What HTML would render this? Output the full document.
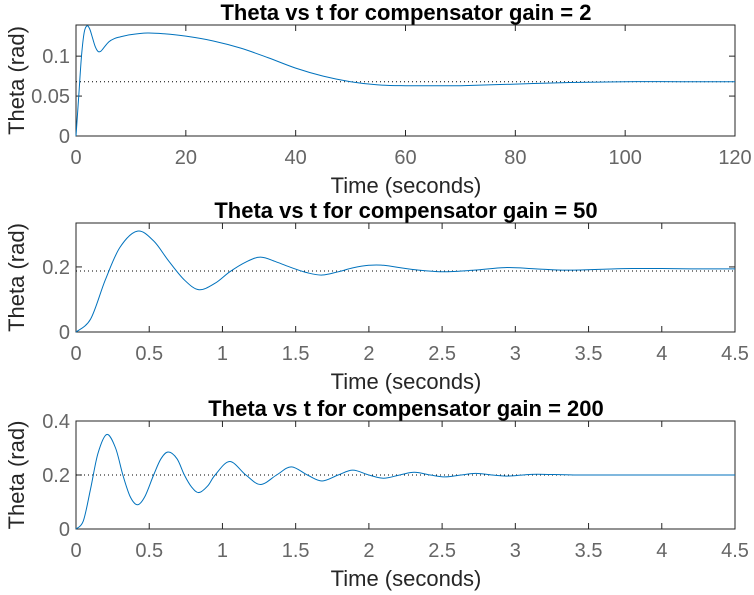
<!DOCTYPE html>
<html><head><meta charset="utf-8"><style>
html,body{margin:0;padding:0;background:#fff;}
svg{display:block;font-family:"Liberation Sans",Arial,sans-serif;}
</style></head><body>
<svg id="chart" width="754" height="595"></svg>
<script>
// Panel 1 data (gain = 2)
const t1 = [0,0.5,1,1.5,2,2.5,3,3.5,4,4.5,5,6,7,8,10,13,16,20,25,30,35,40,45,50,55,60,65,70,80,90,100,110,120];
const y1 = [0,0.05,0.1,0.13,0.138,0.134,0.123,0.112,0.106,0.106,0.11,0.118,0.122,0.124,0.127,0.129,0.128,0.125,0.119,0.11,0.098,0.085,0.075,0.068,0.064,0.063,0.063,0.063,0.065,0.067,0.068,0.068,0.068];
const final1 = [0.068];
const xt1 = [0,20,40,60,80,100,120];
const yt1 = [0,0.05,0.1];
const ytl1 = ['0','0.05','0.1'];
// Panel 2 data (gain = 50)
const t2 = [0,0.1,0.2,0.3,0.42,0.53,0.63,0.74,0.84,0.95,1.05,1.16,1.26,1.37,1.47,1.58,1.68,1.79,1.89,2.0,2.1,2.3,2.5,2.72,2.93,3.14,3.35,3.6,3.8,4.0,4.2,4.5];
const y2 = [0,0.04,0.16,0.26,0.31,0.28,0.22,0.16,0.13,0.15,0.185,0.215,0.23,0.215,0.198,0.182,0.175,0.185,0.197,0.205,0.205,0.192,0.185,0.19,0.198,0.194,0.19,0.193,0.195,0.195,0.194,0.194];
const final2 = [0.1875];
const xt2 = [0,0.5,1,1.5,2,2.5,3,3.5,4,4.5];
const yt2 = [0,0.2];
const ytl2 = ['0','0.2'];
// Panel 3 data (gain = 200)
const t3 = [0,0.05,0.1,0.15,0.21,0.27,0.32,0.37,0.42,0.47,0.53,0.58,0.63,0.69,0.74,0.79,0.84,0.9,0.95,1.05,1.16,1.26,1.37,1.47,1.58,1.68,1.79,1.89,2.0,2.1,2.21,2.31,2.42,2.52,2.63,2.73,2.84,2.94,3.05,3.15,3.4,3.7,4.0,4.5];
const y3 = [0,0.03,0.15,0.28,0.35,0.3,0.2,0.12,0.09,0.12,0.2,0.26,0.285,0.26,0.2,0.155,0.135,0.16,0.2,0.25,0.2,0.165,0.2,0.23,0.2,0.178,0.2,0.218,0.2,0.188,0.2,0.21,0.2,0.193,0.2,0.206,0.2,0.196,0.2,0.203,0.2,0.2,0.2,0.2];
const final3 = [0.2];
const xt3 = xt2;
const yt3 = [0,0.2,0.4];
const ytl3 = ['0','0.2','0.4'];

const NS='http://www.w3.org/2000/svg';
const svg=document.getElementById('chart');
function mk(tag,attrs,parent){const e=document.createElementNS(NS,tag);for(const k in attrs)e.setAttribute(k,attrs[k]);(parent||svg).appendChild(e);return e;}
function smooth(pts){let d='M'+pts[0][0]+','+pts[0][1];for(let i=0;i<pts.length-1;i++){const p0=pts[i-1]||pts[i],p1=pts[i],p2=pts[i+1],p3=pts[i+2]||p2;const c1x=p1[0]+(p2[0]-p0[0])/6,c1y=p1[1]+(p2[1]-p0[1])/6,c2x=p2[0]-(p3[0]-p1[0])/6,c2y=p2[1]-(p3[1]-p1[1])/6;d+=` C${c1x},${c1y} ${c2x},${c2y} ${p2[0]},${p2[1]}`;}return d;}

function panel(o){
  const g=mk('g',{});
  
  
  const L=76,R=735,T=o.top,B=o.bottom;
  const sx=v=>L+(v-o.xmin)/(o.xmax-o.xmin)*(R-L);
  const sy=v=>B-(v-0)/(o.ymax)*(B-T);
  const box=mk('rect',{x:L,y:T,width:R-L,height:B-T,fill:'#fff',stroke:'#262626','stroke-width':1},g);
  
  o.xt.forEach(v=>{const x=sx(v);
    mk('line',{x1:x,x2:x,y1:B,y2:B-6,stroke:'#262626'},g);mk('line',{x1:x,x2:x,y1:T,y2:T+6,stroke:'#262626'},g);
    const t=mk('text',{x:x,y:B+28,'text-anchor':'middle','font-size':20,fill:'#666'},g);t.textContent=String(v);
    });
  o.yt.forEach((v,i)=>{const y=sy(v);
    mk('line',{x1:L,x2:L+6,y1:y,y2:y,stroke:'#262626'},g);mk('line',{x1:R,x2:R-6,y1:y,y2:y,stroke:'#262626'},g);
    const t=mk('text',{x:L-6,y:y+7,'text-anchor':'end','font-size':20,fill:'#666'},g);t.textContent=o.ytl[i];
    });
  const fy=sy(o.final[0]);
  const ref=mk('line',{x1:L,x2:R,y1:fy,y2:fy,stroke:'#000','stroke-width':1,'stroke-dasharray':'1,3'},g);
  
  const pts=o.t.map((v,i)=>[sx(v),sy(o.y[i])]);
  const p=mk('path',{d:smooth(pts),fill:'none',stroke:'#0072BD','stroke-width':1},g);
  
  const ti=mk('text',{x:406,y:T-5,'text-anchor':'middle','font-size':22,'font-weight':'bold',fill:'#000'},g);ti.textContent=o.title;
  
  const xl=mk('text',{x:406,y:B+57,'text-anchor':'middle','font-size':22,fill:'#262626'},g);xl.textContent='Time (seconds)';
  
  const cy=(T+B)/2;
  const yl=mk('text',{x:24,y:cy,'text-anchor':'middle','font-size':22,fill:'#262626',transform:`rotate(-90 24 ${cy})`},g);yl.textContent='Theta (rad)';
  
}
panel({name:'panel-gain-2',top:25,bottom:136,xmin:0,xmax:120,ymax:0.139,t:t1,y:y1,final:final1,xt:xt1,yt:yt1,ytl:ytl1,title:'Theta vs t for compensator gain = 2'});
panel({name:'panel-gain-50',top:223,bottom:332,xmin:0,xmax:4.5,ymax:0.335,t:t2,y:y2,final:final2,xt:xt2,yt:yt2,ytl:ytl2,title:'Theta vs t for compensator gain = 50'});
panel({name:'panel-gain-200',top:421,bottom:529,xmin:0,xmax:4.5,ymax:0.4,t:t3,y:y3,final:final3,xt:xt3,yt:yt3,ytl:ytl3,title:'Theta vs t for compensator gain = 200'});
</script>
</body></html>
